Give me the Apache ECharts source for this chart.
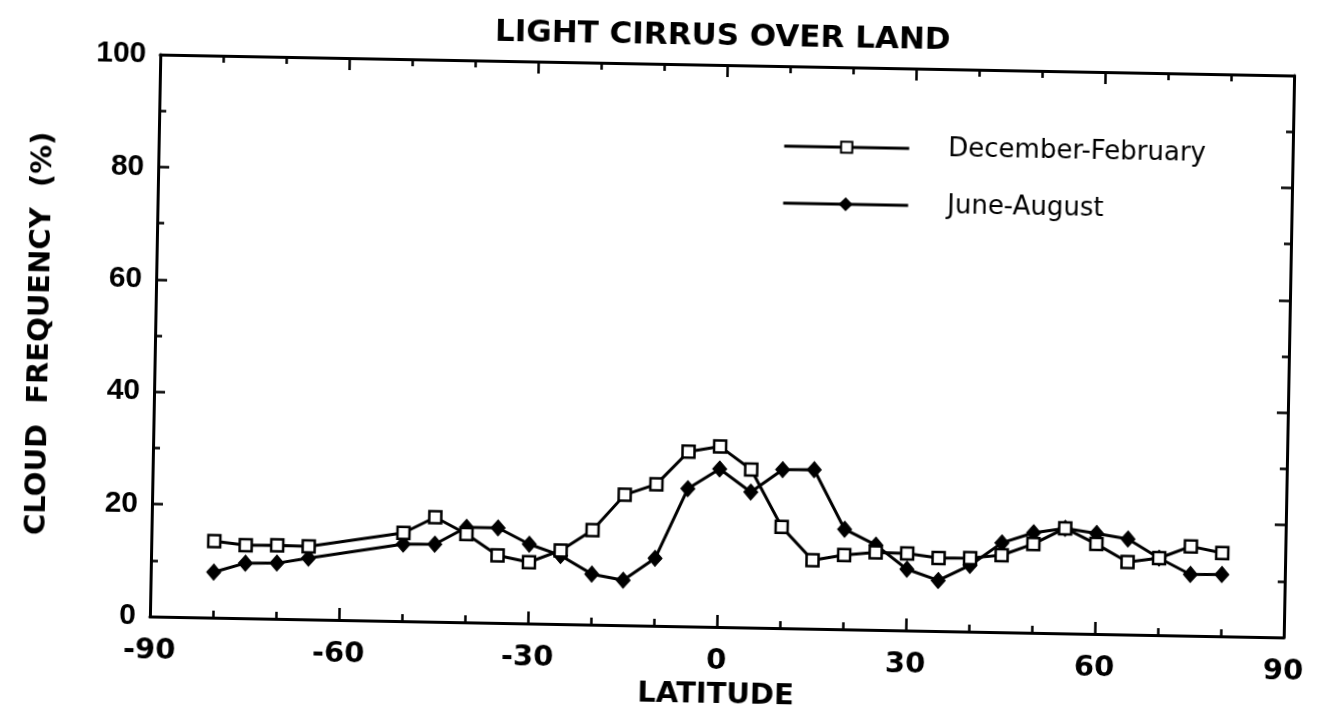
<!DOCTYPE html>
<html>
<head>
<meta charset="utf-8">
<script src="https://cdn.jsdelivr.net/npm/echarts@6/dist/echarts.min.js"></script>
<style>
html,body{margin:0;padding:0;background:#fff;overflow:hidden;}
#chart{width:1317px;height:719px;transform:rotate(1.06deg);transform-origin:722px 346px;}
</style>
</head>
<body>
<div id="chart"></div>
<script>
// Data
const titleText = 'LIGHT CIRRUS OVER LAND';
const xName = 'LATITUDE';
const yName = 'CLOUD  FREQUENCY  (%)';
const seriesNames = ['December-February', 'June-August'];
const latitudes = [-80, -75, -70, -65, -50, -45, -40, -35, -30, -25, -20, -15, -10, -5, 0, 5, 10, 15, 20, 25, 30, 35, 40, 45, 50, 55, 60, 65, 70, 75, 80];
const decFeb = [13.6, 13.0, 13.1, 13.0, 15.7, 18.6, 15.7, 12.0, 10.9, 13.1, 16.8, 23.2, 25.2, 31.1, 32.1, 28.1, 18.0, 12.2, 13.2, 13.8, 13.7, 13.0, 13.1, 13.7, 15.8, 18.7, 16.0, 12.9, 13.7, 15.9, 14.8];
const junAug = [8.1, 9.8, 9.9, 10.9, 13.7, 13.8, 16.9, 16.9, 14.1, 12.2, 9.0, 8.0, 12.0, 24.5, 28.1, 24.1, 28.2, 28.3, 17.8, 15.1, 10.9, 9.0, 11.8, 15.9, 17.8, 18.7, 17.9, 17.0, 13.7, 10.9, 11.0];
const xTicks = [-90, 90, 30];   // min, max, interval
const yTicks = [0, 100, 20];

const pair = (vals) => latitudes.map((x, i) => [x, vals[i]]);

const chart = echarts.init(document.getElementById('chart'), null, {renderer: 'canvas'});
const boldFont = 'DejaVu Sans';
const axisLine = {show: true, onZero: false, lineStyle: {color: '#000', width: 3}};
const xTick = {show: true, inside: true, length: 12, lineStyle: {color: '#000', width: 2.5}};
const xMinor = {show: true, splitNumber: 3, length: 7, lineStyle: {color: '#000', width: 2.5}};
const yTick = {show: true, inside: true, length: 11, lineStyle: {color: '#000', width: 2.5}};
const yMinor = {show: true, splitNumber: 2, length: 7, lineStyle: {color: '#000', width: 2.5}};

chart.setOption({
  animation: false,
  backgroundColor: '#fff',
  title: {
    text: titleText,
    left: 712, top: 16, textAlign: 'center',
    textStyle: {fontFamily: boldFont, fontWeight: 'bold', fontSize: 31, color: '#000'}
  },
  legend: {
    orient: 'vertical',
    left: 774, top: 127,
    itemWidth: 125, itemHeight: 14, itemGap: 31,
    lineStyle: {color: '#000', width: 3},
    textStyle: {fontFamily: 'DejaVu Sans', fontSize: 26, color: '#000', padding: [0, 0, 0, 34]},
    data: seriesNames
  },
  grid: {left: 155, right: 28, top: 65, bottom: 92, containLabel: false},
  xAxis: [{
    type: 'value', min: xTicks[0], max: xTicks[1], interval: xTicks[2],
    name: xName, nameLocation: 'middle', nameGap: 51,
    nameTextStyle: {fontFamily: boldFont, fontWeight: 'bold', fontSize: 29, color: '#000'},
    axisLine: axisLine, axisTick: xTick, minorTick: xMinor,
    splitLine: {show: false},
    axisLabel: {fontFamily: boldFont, fontWeight: 'bold', fontSize: 29, color: '#000', margin: 20}
  }, {
    type: 'value', position: 'top', min: xTicks[0], max: xTicks[1], interval: xTicks[2],
    axisLine: axisLine, axisTick: xTick, minorTick: xMinor,
    splitLine: {show: false}, axisLabel: {show: false}
  }],
  yAxis: [{
    type: 'value', min: yTicks[0], max: yTicks[1], interval: yTicks[2],
    name: yName, nameLocation: 'middle', nameGap: 100, nameRotate: 90,
    nameTextStyle: {fontFamily: boldFont, fontWeight: 'bold', fontSize: 29, color: '#000'},
    axisLine: axisLine, axisTick: yTick, minorTick: yMinor,
    splitLine: {show: false},
    axisLabel: {fontFamily: 'Liberation Sans', fontWeight: 'bold', fontSize: 30, color: '#000', margin: 14}
  }, {
    type: 'value', position: 'right', min: yTicks[0], max: yTicks[1], interval: yTicks[2],
    axisLine: axisLine, axisTick: yTick, minorTick: yMinor,
    splitLine: {show: false}, axisLabel: {show: false}
  }],
  series: [{
    name: seriesNames[0], type: 'line', data: pair(decFeb),
    symbol: 'rect', symbolSize: 12,
    lineStyle: {color: '#000', width: 3},
    itemStyle: {color: '#fff', borderColor: '#000', borderWidth: 2.5},
    z: 3
  }, {
    name: seriesNames[1], type: 'line', data: pair(junAug),
    symbol: 'diamond', symbolSize: [14, 16],
    lineStyle: {color: '#000', width: 3},
    itemStyle: {color: '#000', borderColor: '#000', borderWidth: 1},
    z: 2
  }]
});
</script>
</body>
</html>
